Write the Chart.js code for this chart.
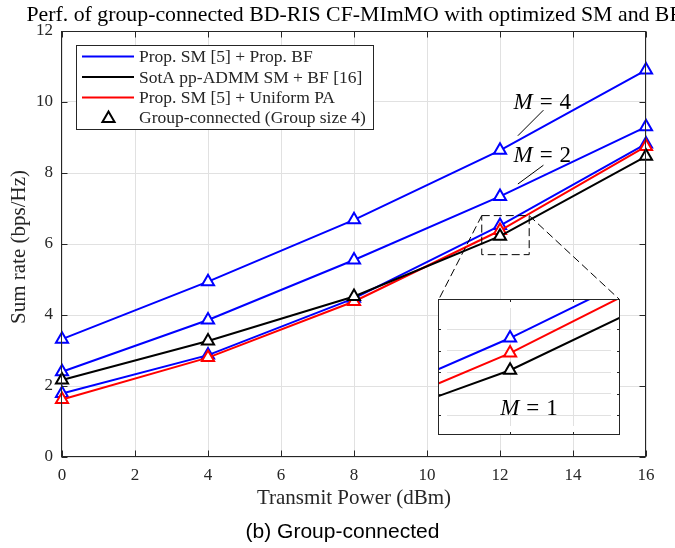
<!DOCTYPE html>
<html><head><meta charset="utf-8">
<script src="https://cdn.jsdelivr.net/npm/chart.js@4"></script>
<style>
html,body{margin:0;padding:0;background:#fff;}
#wrap{position:relative;width:675px;height:548px;overflow:hidden;}
#main{position:absolute;left:0;top:0;}
#inset{position:absolute;background:#fff;}
</style></head><body>
<div id="wrap">
<canvas id="main" width="675" height="548"></canvas>
<canvas id="inset" width="182" height="136"></canvas>
</div>
<script>
// ---- data ----
const txPower   = [0, 4, 8, 12, 16];
const propM4    = [3.32, 4.94, 6.68, 8.64, 10.90];
const propM2    = [2.40, 3.86, 5.55, 7.34, 9.30];
const propM1    = [1.79, 2.87, 4.47, 6.52, 8.82];
const sotaM1    = [2.17, 3.27, 4.52, 6.22, 8.47];
const uniformM1 = [1.62, 2.80, 4.38, 6.38, 8.75];
const xTicks = [0, 2, 4, 6, 8, 10, 12, 14, 16];
const yTicks = [0, 2, 4, 6, 8, 10, 12];
const insetXRange = [11.5, 12.8];
const insetYRange = [5.7, 6.8];
const insetXTicks = [12, 12.5];
const insetYTicks = [5.8, 6.0, 6.2, 6.4, 6.6];
const legendLabels = ['Prop. SM [5] + Prop. BF', 'SotA pp-ADMM SM + BF [16]', 'Prop. SM [5] + Uniform PA', 'Group-connected (Group size 4)'];
const titleText = 'Perf. of group-connected BD-RIS CF-MImMO with optimized SM and BF';
const xLabel = 'Transmit Power (dBm)';
const yLabel = 'Sum rate (bps/Hz)';
const captionText = '(b) Group-connected';

// ---- styles ----
const SERIF = '"Liberation Serif", "Times New Roman", serif';
const SANS = '"Liberation Sans", Arial, sans-serif';
const AX = '#262626';
const GRID = '#e1e1e1';
const BLUE = '#0000ff', RED = '#ff0000', BLACK = '#000000';
const INSET = {left: 438, top: 299, w: 182, h: 136};

const insetEl = document.getElementById('inset');
insetEl.style.left = INSET.left + 'px';
insetEl.style.top = INSET.top + 'px';

function ds(vals, color, order) {
  return {
    data: txPower.map((x, i) => ({x: x, y: vals[i]})),
    borderColor: color, backgroundColor: '#fff', borderWidth: 2,
    pointStyle: 'triangle', pointRadius: 7, pointBorderWidth: 2,
    pointBackgroundColor: '#fff', pointBorderColor: color,
    tension: 0, clip: false, order: order
  };
}
function datasets() {
  return [ds(propM4, BLUE, 3), ds(propM2, BLUE, 3), ds(propM1, BLUE, 3), ds(uniformM1, RED, 2), ds(sotaM1, BLACK, 1)];
}

function mathLabel(ctx, cx, cy, num, size) {
  const gap = 0.3 * size;
  ctx.font = 'italic ' + size + 'px ' + SERIF;
  const wM = ctx.measureText('M').width;
  ctx.font = size + 'px ' + SERIF;
  const wE = ctx.measureText('=').width;
  const wN = ctx.measureText(num).width;
  const total = wM + gap + wE + gap + wN;
  let x = cx - total / 2;
  ctx.fillStyle = '#000';
  ctx.textBaseline = 'alphabetic';
  ctx.textAlign = 'left';
  const base = cy + size * 0.33;
  ctx.font = 'italic ' + size + 'px ' + SERIF;
  ctx.fillText('M', x, base); x += wM + gap;
  ctx.font = size + 'px ' + SERIF;
  ctx.fillText('=', x, base); x += wE + gap;
  ctx.fillText(num, x, base);
}

const decor = {
  id: 'decor',
  afterDraw(chart) {
    const ctx = chart.ctx, ca = chart.chartArea, xs = chart.scales.x, ys = chart.scales.y;
    ctx.save();
    // frame
    ctx.strokeStyle = AX; ctx.lineWidth = 1;
    const L = Math.round(ca.left) - 0.5, R = Math.round(ca.right) - 0.5, T = Math.round(ca.top) + 0.5, B = Math.round(ca.bottom) - 0.5;
    ctx.strokeRect(L, T, R - L, B - T);
    // inward ticks
    ctx.beginPath();
    xTicks.forEach(v => { const p = Math.round(xs.getPixelForValue(v)) + 0.5; ctx.moveTo(p, B); ctx.lineTo(p, B - 6); ctx.moveTo(p, T); ctx.lineTo(p, T + 6); });
    yTicks.forEach(v => { const p = Math.round(ys.getPixelForValue(v)) + 0.5; ctx.moveTo(L, p); ctx.lineTo(L + 6, p); ctx.moveTo(R, p); ctx.lineTo(R - 6, p); });
    ctx.stroke();

    // zoom rectangle + connectors
    const zx1 = xs.getPixelForValue(insetXRange[0]), zx2 = xs.getPixelForValue(insetXRange[1]);
    const zy1 = ys.getPixelForValue(insetYRange[1]), zy2 = ys.getPixelForValue(insetYRange[0]);
    ctx.setLineDash([8, 4]);
    ctx.strokeStyle = '#000';
    ctx.strokeRect(zx1, zy1, zx2 - zx1, zy2 - zy1);
    ctx.beginPath();
    ctx.moveTo(zx1, zy1); ctx.lineTo(INSET.left + 1, INSET.top);
    ctx.moveTo(zx2, zy1); ctx.lineTo(INSET.left + INSET.w - 1, INSET.top);
    ctx.stroke();
    ctx.setLineDash([]);

    // annotations M=4, M=2
    ctx.strokeStyle = '#000'; ctx.lineWidth = 1;
    const lead = [[12.49, 9.05, 13.19, 9.77], [12.49, 7.69, 13.19, 8.22]];
    lead.forEach(a => {
      ctx.beginPath();
      ctx.moveTo(xs.getPixelForValue(a[0]), ys.getPixelForValue(a[1]));
      ctx.lineTo(xs.getPixelForValue(a[2]), ys.getPixelForValue(a[3]));
      ctx.stroke();
    });
    mathLabel(ctx, xs.getPixelForValue(13.16), ys.getPixelForValue(10.02), '4', 23);
    mathLabel(ctx, xs.getPixelForValue(13.16), ys.getPixelForValue(8.52), '2', 23);

    // legend
    ctx.font = '17.5px ' + SERIF;
    let maxW = 0;
    legendLabels.forEach(t => { maxW = Math.max(maxW, ctx.measureText(t).width); });
    const lx = 76.5, ly = 45.5, lw = Math.round(139 + maxW + 7 - 76), lh = 84;
    ctx.fillStyle = '#fff';
    ctx.fillRect(lx, ly, lw, lh);
    ctx.strokeStyle = AX; ctx.lineWidth = 1;
    ctx.strokeRect(lx, ly, lw, lh);
    const rows = [56.5, 77, 97.5, 117.5];
    const lcol = [BLUE, BLACK, RED];
    ctx.lineWidth = 2;
    for (let i = 0; i < 3; i++) {
      ctx.strokeStyle = lcol[i];
      ctx.beginPath(); ctx.moveTo(82, rows[i]); ctx.lineTo(134, rows[i]); ctx.stroke();
    }
    ctx.strokeStyle = BLACK; ctx.fillStyle = '#fff';
    Chart.helpers.drawPoint(ctx, {pointStyle: 'triangle', radius: 7, borderWidth: 2, rotation: 0}, 108.5, rows[3] + 1);
    ctx.fillStyle = AX;
    ctx.font = '17.5px ' + SERIF;
    ctx.textAlign = 'left'; ctx.textBaseline = 'middle';
    legendLabels.forEach((t, i) => ctx.fillText(t, 139, rows[i] + 1));

    // title, labels, caption
    ctx.fillStyle = '#000';
    ctx.textBaseline = 'alphabetic'; ctx.textAlign = 'center';
    ctx.font = '21.8px ' + SERIF;
    ctx.fillText(titleText, (ca.left + ca.right) / 2, 21);
    ctx.fillStyle = AX;
    ctx.font = '21px ' + SERIF;
    ctx.fillText(xLabel, (ca.left + ca.right) / 2, 504);
    ctx.save();
    ctx.translate(24.5, (ca.top + ca.bottom) / 2 + 3);
    ctx.rotate(-Math.PI / 2);
    ctx.fillText(yLabel, 0, 0);
    ctx.restore();
    ctx.fillStyle = '#000';
    ctx.font = '21px ' + SANS;
    ctx.fillText(captionText, 342.5, 538);
    ctx.restore();
  }
};

new Chart(document.getElementById('main'), {
  type: 'line',
  data: {datasets: datasets()},
  options: {
    responsive: false, animation: false, devicePixelRatio: 1,
    layout: {padding: {top: 31, right: 29, left: 0, bottom: 0}},
    plugins: {legend: {display: false}, tooltip: {enabled: false}, title: {display: false}},
    scales: {
      x: {
        type: 'linear', min: 0, max: 16,
        afterBuildTicks: s => { s.ticks = xTicks.map(v => ({value: v})); },
        afterFit: s => { s.height = 91; },
        grid: {color: GRID, drawTicks: false, lineWidth: 1},
        border: {display: false},
        ticks: {font: {family: SERIF, size: 17}, color: AX, padding: 8, maxRotation: 0, autoSkip: false}
      },
      y: {
        type: 'linear', min: 0, max: 12,
        afterBuildTicks: s => { s.ticks = yTicks.map(v => ({value: v})); },
        afterFit: s => { s.width = 62; },
        grid: {color: GRID, drawTicks: false, lineWidth: 1},
        border: {display: false},
        ticks: {font: {family: SERIF, size: 17}, color: AX, padding: 9, autoSkip: false}
      }
    }
  },
  plugins: [decor]
});

const insetDecor = {
  id: 'insetDecor',
  afterDraw(chart) {
    const ctx = chart.ctx, xs = chart.scales.x, ys = chart.scales.y;
    const W = chart.width, H = chart.height;
    ctx.save();
    ctx.strokeStyle = AX; ctx.lineWidth = 1;
    ctx.strokeRect(0.5, 0.5, W - 1, H - 1);
    ctx.beginPath();
    insetXTicks.forEach(v => { const p = Math.round(xs.getPixelForValue(v)) + 0.5; ctx.moveTo(p, H); ctx.lineTo(p, H - 3); ctx.moveTo(p, 0); ctx.lineTo(p, 3); });
    insetYTicks.forEach(v => { const p = Math.round(ys.getPixelForValue(v)) + 0.5; ctx.moveTo(0, p); ctx.lineTo(3, p); ctx.moveTo(W, p); ctx.lineTo(W - 3, p); });
    ctx.stroke();
    mathLabel(ctx, xs.getPixelForValue(12.15), ys.getPixelForValue(5.87), '1', 23);
    ctx.restore();
  }
};

new Chart(insetEl, {
  type: 'line',
  data: {datasets: datasets()},
  options: {
    responsive: false, animation: false, devicePixelRatio: 1,
    layout: {padding: 0},
    plugins: {legend: {display: false}, tooltip: {enabled: false}},
    scales: {
      x: {
        type: 'linear', min: insetXRange[0], max: insetXRange[1],
        afterBuildTicks: s => { s.ticks = insetXTicks.map(v => ({value: v})); },
        afterFit: s => { s.height = 0; },
        grid: {color: GRID, drawTicks: false}, border: {display: false},
        ticks: {display: false}
      },
      y: {
        type: 'linear', min: insetYRange[0], max: insetYRange[1],
        afterBuildTicks: s => { s.ticks = insetYTicks.map(v => ({value: v})); },
        afterFit: s => { s.width = 0; },
        grid: {color: GRID, drawTicks: false}, border: {display: false},
        ticks: {display: false}
      }
    }
  },
  plugins: [insetDecor]
});
</script>
</body></html>
